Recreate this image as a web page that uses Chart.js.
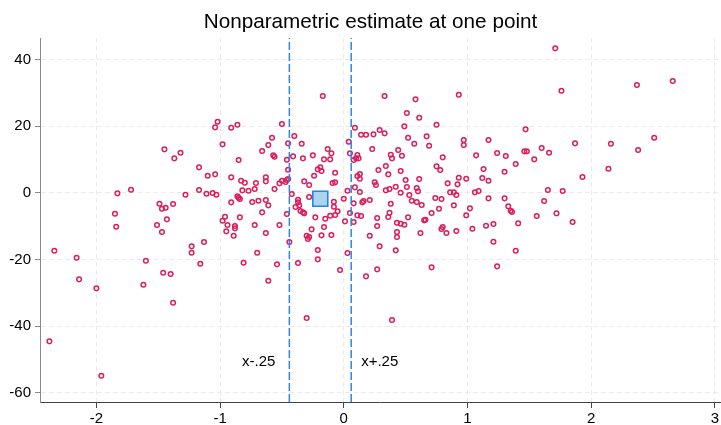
<!DOCTYPE html>
<html>
<head>
<meta charset="utf-8">
<script src="https://cdn.jsdelivr.net/npm/chart.js@4/dist/chart.umd.min.js"></script>
<style>
  html, body { margin: 0; padding: 0; background: #fff; }
  #wrap { width: 721px; height: 425px; }
</style>
</head>
<body>
<div id="wrap"><canvas id="npChart" width="721" height="425"></canvas></div>
<script>
(function() {

  // observations (x, y)
  const obs = [
    [-1.45,13.0],[-1.32,12.0],[-1.37,10.3],
    [-0.17,29.0],[-1.02,21.3],[-1.04,19.6],[-0.91,19.5],[-0.86,20.4],[-0.50,20.6],[-0.98,14.5],
    [-0.58,16.5],[-0.61,14.3],[-0.66,12.5],[-0.57,11.2],[-0.56,10.8],[-0.45,14.8],[-0.40,17.0],
    [-0.34,14.7],[-0.41,10.9],[-0.46,9.9],[-0.33,10.3],[-0.25,11.2],[-0.16,10.0],[-0.13,13.1],
    [-0.10,11.8],[-0.11,10.0],[-0.85,9.8],[0.04,15.3],[0.09,19.5],[0.14,17.4],[0.18,17.4],
    [0.24,17.5],[0.29,18.8],[0.23,13.1],[0.05,11.8],[0.11,11.3],[0.10,10.3],[0.12,10.3],[0.08,9.8],
    [0.33,29.0],[0.58,28.0],[0.93,29.4],[0.51,23.9],[0.61,22.5],[0.49,19.9],[0.75,20.4],[0.33,17.8],
    [0.52,16.5],[0.57,14.7],[0.67,16.9],[0.69,14.1],[0.44,12.8],[0.38,11.4],[0.47,11.1],[0.39,10.3],
    [0.80,10.6],[0.97,15.8],[0.97,14.3],[1.17,15.8],[1.07,11.2],[1.24,11.9],[1.31,11.0],[1.47,19.0],
    [1.46,12.4],[1.48,12.4],[1.60,13.4],[1.54,10.0],[1.66,12.0],
    [1.71,43.3],[1.76,30.6],[2.37,32.3],[2.66,33.5],[1.87,14.8],[2.16,14.7],[2.38,12.8],[2.51,16.5],
    [-1.17,7.6],[-1.10,5.1],[-1.83,-0.2],[-1.72,0.9],[-1.28,-0.6],[-1.17,0.8],[-1.11,-0.3],
    [-1.49,-3.3],[-1.47,-4.8],[-1.44,-4.5],[-1.38,-3.4],[-1.85,-6.3],[-1.84,-10.2],[-1.51,-9.7],
    [-1.43,-8.0],[-1.47,-11.8],[-2.34,-17.4],[-2.16,-19.5],[-1.60,-20.4],[-1.23,-16.1],[-1.23,-18.0],
    [-1.13,-14.8],[-1.16,-21.3],[-2.14,-26.0],[-1.46,-24.0],[-1.40,-24.4],[-1.62,-27.6],
    [-2.00,-28.7],[-1.38,-33.0],[-2.38,-44.6],[-1.96,-54.9],[-0.30,-37.6],[0.39,-38.2],
    [1.77,0.5],[1.93,4.7],[2.14,7.2],[1.72,-6.2],[1.85,-8.8],
    [0.34,8.0],[0.28,6.8],[0.36,5.5],[0.46,6.5],[0.75,7.9],[0.78,6.8],[0.61,4.1],[0.50,3.8],
    [0.42,1.8],[0.34,0.7],[0.37,1.1],[0.51,1.7],[0.59,1.4],[0.60,0.4],[0.46,0.0],[0.53,-0.7],
    [0.55,-2.4],[0.59,-2.8],[0.63,-3.7],[0.38,-3.3],[0.37,-6.0],[0.36,-7.3],[0.27,-7.6],[0.52,-7.4],
    [0.43,-9.0],[0.46,-9.3],[0.49,-9.6],[0.43,-11.8],[0.43,-13.3],[0.29,-16.1],[0.42,-17.3],
    [0.62,-12.1],[0.71,-6.1],[0.65,-8.3],[0.66,-8.1],[0.74,-1.6],[0.79,-1.9],[0.77,-4.8],
    [0.71,-22.4],[0.84,2.8],[0.93,4.5],[0.92,2.5],[0.86,0.1],[0.89,0.1],[0.91,-0.7],[0.89,-3.8],
    [0.80,-10.3],[0.79,-10.9],[0.83,-12.1],[0.91,-11.5],[0.99,4.2],[1.02,-4.7],[0.99,-6.8],
    [1.04,-10.8],[1.06,0.1],[1.09,0.5],[1.13,7.1],[1.12,4.4],[1.17,3.6],[1.17,-1.7],[1.15,-9.9],
    [1.21,-9.4],[1.21,-14.7],[1.24,-22.1],[1.30,6.3],[1.39,8.6],[1.30,-1.7],[1.33,-4.1],[1.35,-5.4],
    [1.36,-5.8],[1.41,-9.2],[1.39,-17.4],[1.56,-7.0],[1.62,-2.5],[1.65,0.8],[0.27,-23.0],
    [-1.04,5.5],[-0.91,4.6],[-0.83,3.6],[-0.80,3.0],[-0.71,2.9],[-0.72,1.1],[-0.63,4.6],[-0.63,3.4],
    [-0.56,1.1],[-0.52,2.8],[-0.50,3.6],[-0.47,3.2],[-0.46,3.8],[-0.45,4.1],[-0.45,6.9],[-0.32,3.4],
    [-0.28,2.3],[-0.24,5.1],[-0.21,7.0],[-0.19,7.6],[-0.18,6.5],[-0.07,6.0],[-0.09,2.9],[-0.07,3.1],
    [0.03,0.6],[0.09,1.6],[0.13,0.2],[0.11,5.0],[0.13,5.6],[0.13,4.2],[0.25,3.1],[0.26,2.3],
    [-1.06,-0.1],[-1.03,-0.6],[-0.91,-2.9],[-0.86,-1.1],[-0.85,-1.5],[-0.84,-1.9],[-0.82,0.7],
    [-0.77,0.6],[-0.74,-2.8],[-0.69,-2.4],[-0.63,-2.2],[-0.61,-3.8],[-0.66,-5.9],[-0.46,-6.4],
    [-0.42,-0.4],[-0.37,-2.1],[-0.37,-2.9],[-0.39,-4.3],[-0.36,-3.8],[-0.35,-5.5],[-0.33,-5.9],
    [-0.32,-6.2],[-0.28,-1.3],[-0.23,-7.4],[-0.15,-7.8],[-0.11,-6.9],[-0.08,-2.7],[-0.08,-4.2],
    [-0.05,-5.6],[-0.07,-6.7],[0.00,-1.8],[0.05,-6.1],[0.01,-8.6],[0.08,-3.2],[0.11,-6.8],
    [0.14,-7.0],[0.08,-8.8],[0.15,-2.9],[0.16,-2.5],[0.21,-2.2],[0.27,-10.0],[-0.96,-7.2],
    [-0.98,-8.4],[-0.94,-9.7],[-0.84,-7.4],[-0.88,-10.0],[-0.88,-10.7],[-0.95,-11.6],[-0.89,-12.9],
    [-0.72,-9.7],[-0.63,-12.1],[-0.52,-9.7],[-0.26,-11.0],[-0.16,-10.3],[-0.18,-12.8],[-0.10,-12.7],
    [-0.30,-12.9],[-0.28,-13.3],[-0.29,-13.9],[-0.44,-14.8],[-0.70,-18.0],[-0.81,-21.0],
    [-0.54,-21.5],[-0.37,-21.1],[-0.21,-17.2],[-0.21,-20.0],[-0.03,-23.2],[0.03,-18.1],
    [0.18,-25.1],[0.21,-12.9],[-0.61,-26.4]
  ];

  // local estimate and window half-width
  const estX = -0.19;
  const estY = -1.8;
  const halfWidth = 0.25;
  const windowLabels = ['x-.25', 'x+.25'];

  const xTicks = [-2, -1, 0, 1, 2, 3];
  const yTicks = [-60, -40, -20, 0, 20, 40];
  const xRange = [-2.456, 3.045];
  const yRange = [-62.79, 46.41];

  const C = {
    marker: '#dc1f5c',
    band:   '#2b86e8',
    estFill: '#a9d6ea',
    estLine: '#1f86f0',
    grid:   '#ebebeb',
    text:   '#000000',
  };
  const FONT = '"Liberation Sans", Arial, Helvetica, sans-serif';

  // window edges, full plot height
  const edge = x => [{ x: x, y: yRange[0] }, { x: x, y: yRange[1] }];

  // text labels and title, drawn on top
  const annotations = {
    id: 'annotations',
    afterDatasetsDraw(chart) {
      const ctx = chart.ctx;
      const xs = chart.scales.x, ys = chart.scales.y;
      const ly = ys.getPixelForValue(-50.8);
      ctx.save();
      ctx.fillStyle = C.text;
      ctx.font = '15px ' + FONT;
      ctx.textBaseline = 'middle';
      ctx.textAlign = 'right';
      ctx.fillText(windowLabels[0], xs.getPixelForValue(estX - halfWidth) - 14, ly);
      ctx.textAlign = 'left';
      ctx.fillText(windowLabels[1], xs.getPixelForValue(estX + halfWidth) + 10, ly);
      ctx.font = '20.7px ' + FONT;
      ctx.textAlign = 'center';
      ctx.textBaseline = 'alphabetic';
      ctx.fillText('Nonparametric estimate at one point', 370.5, 27.5);
      ctx.restore();
    }
  };

  new Chart(document.getElementById('npChart'), {
    type: 'scatter',
    data: {
      datasets: [
        {
          label: 'obs',
          data: obs.map(p => ({ x: p[0], y: p[1] })),
          pointStyle: 'circle',
          pointRadius: 2.3,
          pointBorderWidth: 1.5,
          pointBorderColor: C.marker,
          pointBackgroundColor: 'rgba(0,0,0,0)',
          order: 3
        },
        {
          type: 'line',
          data: edge(estX - halfWidth),
          borderColor: C.band, borderWidth: 1.5, borderDash: [8, 3],
          pointRadius: 0, fill: false, order: 2
        },
        {
          type: 'line',
          data: edge(estX + halfWidth),
          borderColor: C.band, borderWidth: 1.5, borderDash: [8, 3],
          pointRadius: 0, fill: false, order: 2
        },
        {
          data: [{ x: estX, y: estY }],
          pointStyle: 'rect',
          pointRadius: 10.6,
          pointBorderWidth: 1.6,
          pointBorderColor: C.estLine,
          pointBackgroundColor: C.estFill,
          order: 1
        }
      ]
    },
    options: {
      responsive: false,
      animation: false,
      devicePixelRatio: 1,
      layout: { autoPadding: false, padding: { top: 38, left: 0, right: 0, bottom: 0 } },
      plugins: { legend: { display: false }, tooltip: { enabled: false }, title: { display: false } },
      scales: {
        x: {
          type: 'linear',
          min: xRange[0], max: xRange[1],
          afterFit: s => { s.height = 23; },
          afterBuildTicks: s => { s.ticks = xTicks.map(v => ({ value: v })); },
          ticks: { color: C.text, font: { family: FONT, size: 15 }, padding: 2, maxRotation: 0 },
          grid: { color: C.grid, lineWidth: 1, tickLength: 6, tickColor: '#444', tickWidth: 1 },
          border: { display: true, color: '#444', width: 1, dash: [5, 3] }
        },
        y: {
          type: 'linear',
          min: yRange[0], max: yRange[1],
          afterFit: s => { s.width = 40; },
          afterBuildTicks: s => { s.ticks = yTicks.map(v => ({ value: v })); },
          ticks: { color: C.text, font: { family: FONT, size: 15 }, padding: 4 },
          grid: { color: C.grid, lineWidth: 1, tickLength: 5, tickColor: '#888', tickWidth: 1 },
          border: { display: true, color: '#888', width: 1, dash: [5, 3] }
        }
      }
    },
    plugins: [annotations]
  });

})();
</script>
</body>
</html>
